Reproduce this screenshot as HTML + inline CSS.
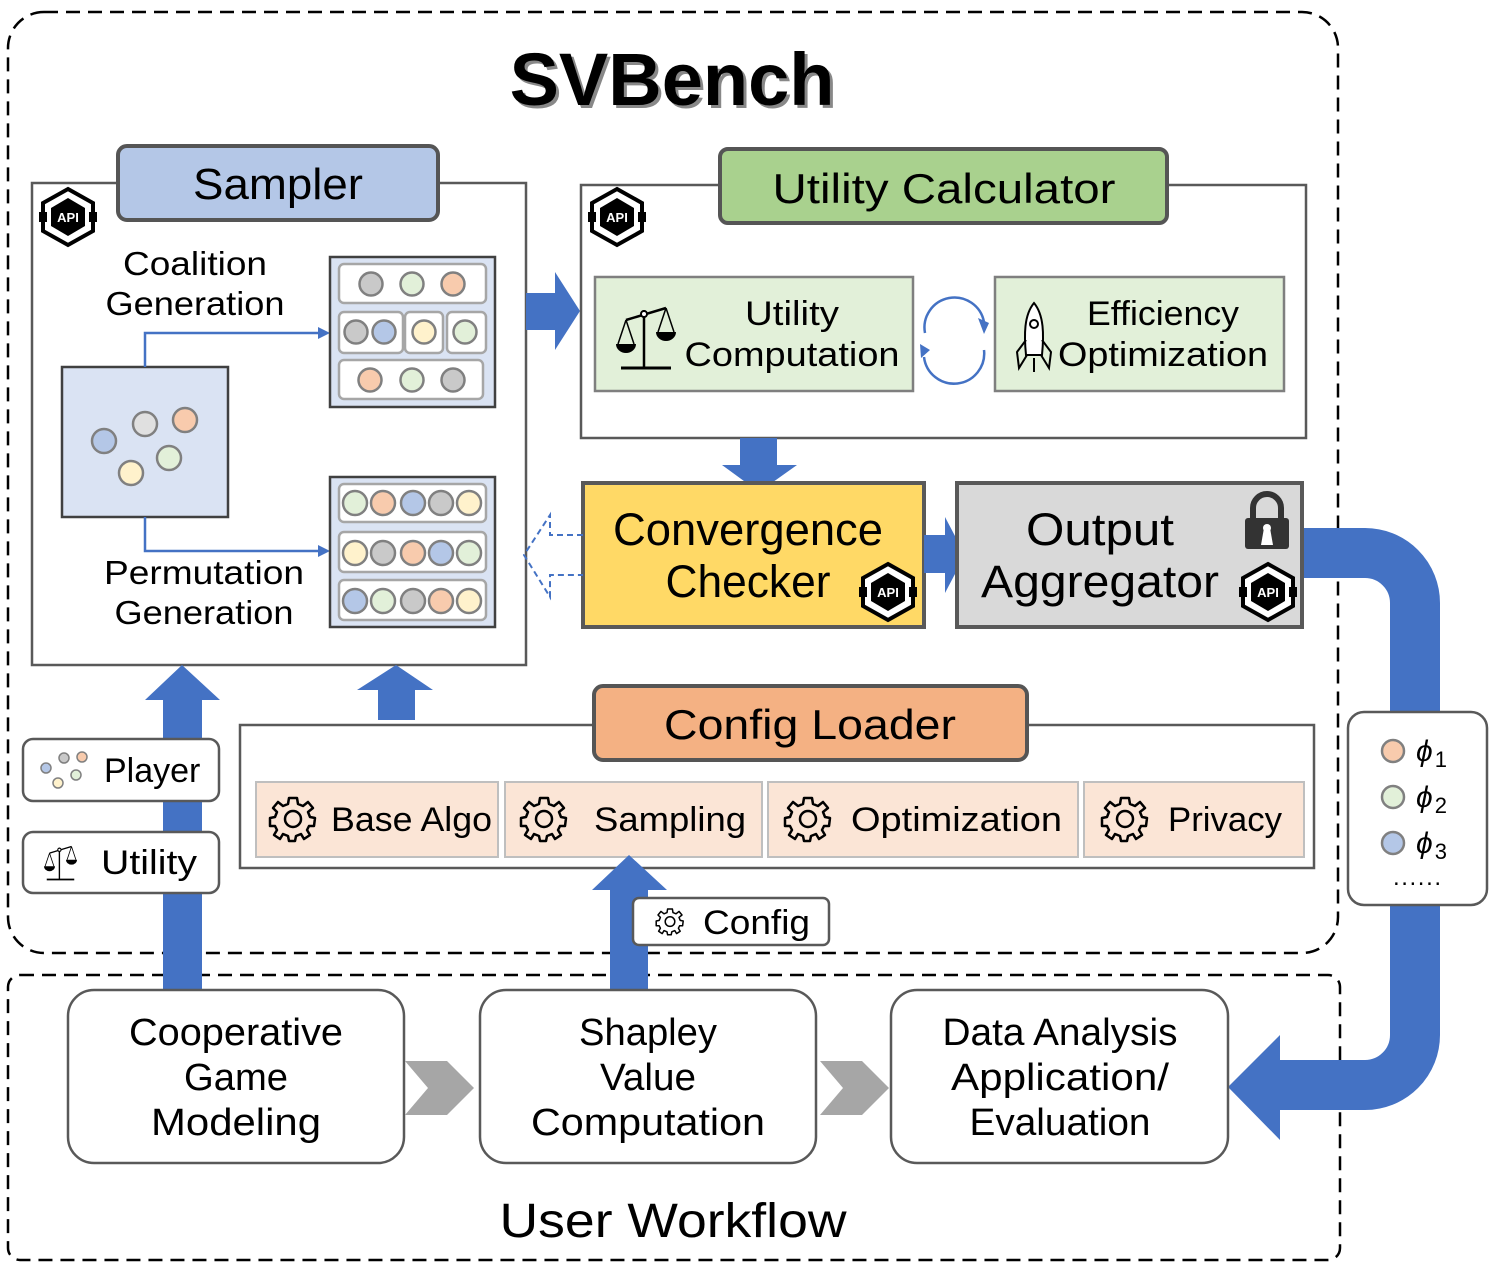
<!DOCTYPE html>
<html><head><meta charset="utf-8"><style>
html,body{margin:0;padding:0;background:#fff}
svg{display:block}
text{font-family:"Liberation Sans",sans-serif;fill:#000}
</style></head><body>
<svg width="1494" height="1275" viewBox="0 0 1494 1275" xmlns="http://www.w3.org/2000/svg">
<defs>
<g id="api">
<polygon points="0,-28 25,-14 25,14 0,28 -25,14 -25,-14" fill="#fff" stroke="#000" stroke-width="4"/>
<polygon points="0,-19 17,-9 17,9 0,19 -17,9 -17,-9" fill="#000"/>
<rect x="-29" y="-5" width="8" height="10" fill="#000"/>
<rect x="21" y="-5" width="8" height="10" fill="#000"/>
<text x="0" y="5" font-size="13" font-weight="bold" text-anchor="middle" style="fill:#fff">API</text>
</g>
<g id="gear">
<path d="M-4,-20 L4,-20 L5,-14 L10,-12 L15,-16 L20,-10 L15,-6 L17,-1 L22,0 L21,8 L16,8 L14,12 L17,17 L11,21 L8,16 L3,18 L2,23 L-4,23 L-5,18 L-10,16 L-13,21 L-19,17 L-16,12 L-18,8 L-23,8 L-23,0 L-18,-1 L-16,-6 L-20,-10 L-15,-16 L-10,-12 L-5,-14 Z" fill="none" stroke="#000" stroke-width="2.5" stroke-linejoin="round"/>
<circle cx="0" cy="1" r="8" fill="none" stroke="#000" stroke-width="2.5"/>
</g>
<g id="scale">
<line x1="-35" y1="30" x2="15" y2="30" stroke="#000" stroke-width="3"/>
<line x1="-12" y1="30" x2="-12" y2="-28" stroke="#000" stroke-width="2.5"/>
<line x1="-30" y1="-18" x2="10" y2="-30" stroke="#000" stroke-width="2.5"/>
<circle cx="-12" cy="-24" r="3" fill="#fff" stroke="#000" stroke-width="2"/>
<path d="M-30,-18 L-38,6 M-30,-18 L-22,6 M10,-30 L2,-6 M10,-30 L18,-6" stroke="#000" stroke-width="1.5" fill="none"/>
<path d="M-40,6 L-20,6 A10,9 0 0 1 -40,6 Z" fill="#000"/>
<path d="M0,-6 L20,-6 A10,9 0 0 1 0,-6 Z" fill="#000"/>
</g>
</defs>

<rect x="8" y="12" width="1330" height="941" rx="36" fill="none" stroke="#000" stroke-width="2.5" stroke-dasharray="14,8"/>
<rect x="8" y="975" width="1332" height="285" rx="12" fill="none" stroke="#000" stroke-width="2.5" stroke-dasharray="14,8"/>

<text x="672" y="105" font-size="74" font-weight="bold" text-anchor="middle" style="fill:#888" transform="translate(3,3)">SVBench</text>
<text x="672" y="105" font-size="74" font-weight="bold" text-anchor="middle">SVBench</text>

<path d="M1300,553 L1365,553 A50,50 0 0 1 1415,603 L1415,1035 A50,50 0 0 1 1365,1085 L1270,1085" fill="none" stroke="#4472c4" stroke-width="50"/>
<polygon points="1280,1035 1280,1140 1228,1087" fill="#4472c4"/>

<rect x="32" y="183" width="494" height="482" fill="#fff" stroke="#595959" stroke-width="2.5"/>
<rect x="118" y="146" width="320" height="74" rx="9" fill="#b4c7e7" stroke="#555" stroke-width="4"/>
<text x="278" y="199" font-size="44" text-anchor="middle" textLength="170" lengthAdjust="spacingAndGlyphs">Sampler</text>
<use href="#api" x="68" y="217"/>
<text x="195" y="275" font-size="33" text-anchor="middle" textLength="144" lengthAdjust="spacingAndGlyphs">Coalition</text>
<text x="195" y="315" font-size="33" text-anchor="middle" textLength="179" lengthAdjust="spacingAndGlyphs">Generation</text>
<text x="204" y="584" font-size="33" text-anchor="middle" textLength="200" lengthAdjust="spacingAndGlyphs">Permutation</text>
<text x="204" y="624" font-size="33" text-anchor="middle" textLength="179" lengthAdjust="spacingAndGlyphs">Generation</text>
<rect x="62" y="367" width="166" height="150" fill="#dae3f3" stroke="#404040" stroke-width="2.5"/>
<g stroke="#808080" stroke-width="2.5">
<circle cx="104" cy="441" r="12" fill="#b4c7e7"/>
<circle cx="145" cy="424" r="12" fill="#e0e0e0"/>
<circle cx="185" cy="420" r="12" fill="#f8cbad"/>
<circle cx="169" cy="458" r="12" fill="#e2f0d9"/>
<circle cx="131" cy="473" r="12" fill="#fff2cc"/>
</g>
<path d="M145,367 L145,333 L320,333" fill="none" stroke="#4472c4" stroke-width="2.5"/>
<polygon points="318,327 330,333 318,339" fill="#4472c4"/>
<path d="M145,517 L145,551 L320,551" fill="none" stroke="#4472c4" stroke-width="2.5"/>
<polygon points="318,545 330,551 318,557" fill="#4472c4"/>

<rect x="330" y="257" width="165" height="150" fill="#dae3f3" stroke="#404040" stroke-width="2.5"/>
<g fill="#fff" stroke="#a6a6a6" stroke-width="2.5">
<rect x="339" y="264" width="147" height="39" rx="5"/>
<rect x="339" y="312" width="64" height="41" rx="5"/>
<rect x="405" y="312" width="38" height="41" rx="5"/>
<rect x="447" y="312" width="39" height="41" rx="5"/>
<rect x="339" y="360" width="144" height="39" rx="5"/>
</g>
<g stroke="#808080" stroke-width="2.5">
<circle cx="371" cy="284" r="11.5" fill="#c9c9c9"/><circle cx="412" cy="284" r="11.5" fill="#e2f0d9"/><circle cx="453" cy="284" r="11.5" fill="#f8cbad"/>
<circle cx="356" cy="332" r="11.5" fill="#c9c9c9"/><circle cx="384" cy="332" r="11.5" fill="#b4c7e7"/><circle cx="424" cy="332" r="11.5" fill="#fff2cc"/><circle cx="465" cy="332" r="11.5" fill="#e2f0d9"/>
<circle cx="370" cy="380" r="11.5" fill="#f8cbad"/><circle cx="412" cy="380" r="11.5" fill="#e2f0d9"/><circle cx="453" cy="380" r="11.5" fill="#c9c9c9"/>
</g>
<rect x="330" y="477" width="165" height="150" fill="#dae3f3" stroke="#404040" stroke-width="2.5"/>
<g fill="#fff" stroke="#a6a6a6" stroke-width="2.5">
<rect x="339" y="484" width="147" height="38" rx="5"/>
<rect x="339" y="532" width="147" height="40" rx="5"/>
<rect x="339" y="580" width="147" height="40" rx="5"/>
</g>
<g stroke="#808080" stroke-width="2.5">
<circle cx="355" cy="503" r="12" fill="#e2f0d9"/><circle cx="383" cy="503" r="12" fill="#f8cbad"/><circle cx="413" cy="503" r="12" fill="#b4c7e7"/><circle cx="441" cy="503" r="12" fill="#c9c9c9"/><circle cx="469" cy="503" r="12" fill="#fff2cc"/>
<circle cx="355" cy="553" r="12" fill="#fff2cc"/><circle cx="383" cy="553" r="12" fill="#c9c9c9"/><circle cx="413" cy="553" r="12" fill="#f8cbad"/><circle cx="441" cy="553" r="12" fill="#b4c7e7"/><circle cx="469" cy="553" r="12" fill="#e2f0d9"/>
<circle cx="355" cy="601" r="12" fill="#b4c7e7"/><circle cx="383" cy="601" r="12" fill="#e2f0d9"/><circle cx="413" cy="601" r="12" fill="#c9c9c9"/><circle cx="441" cy="601" r="12" fill="#f8cbad"/><circle cx="469" cy="601" r="12" fill="#fff2cc"/>
</g>

<polygon points="526,293 555,293 555,272 580,311 555,350 555,330 526,330" fill="#4472c4"/>

<rect x="581" y="185" width="725" height="253" fill="#fff" stroke="#595959" stroke-width="2.5"/>
<rect x="720" y="149" width="447" height="74" rx="8" fill="#a9d18e" stroke="#555" stroke-width="4"/>
<text x="944" y="203" font-size="42" text-anchor="middle" textLength="343" lengthAdjust="spacingAndGlyphs">Utility Calculator</text>
<use href="#api" x="617" y="217"/>
<rect x="595" y="277" width="318" height="114" fill="#e2f0d9" stroke="#7f7f7f" stroke-width="2.5"/>
<use href="#scale" x="656" y="338"/>
<text x="792" y="325" font-size="34" text-anchor="middle" textLength="94" lengthAdjust="spacingAndGlyphs">Utility</text>
<text x="792" y="366" font-size="34" text-anchor="middle" textLength="215" lengthAdjust="spacingAndGlyphs">Computation</text>
<rect x="995" y="277" width="289" height="114" fill="#e2f0d9" stroke="#7f7f7f" stroke-width="2.5"/>
<path d="M1034,303 C1024,315 1024,335 1026,355 L1042,355 C1044,335 1044,315 1034,303 Z" fill="#fff" stroke="#000" stroke-width="2"/>
<circle cx="1034" cy="324" r="4" fill="none" stroke="#000" stroke-width="2"/>
<path d="M1026,340 L1017,352 L1019,368 L1027,355 M1042,340 L1051,352 L1049,368 L1041,355 M1034,358 L1034,372" stroke="#000" stroke-width="2" fill="none"/>
<text x="1163" y="325" font-size="34" text-anchor="middle" textLength="152" lengthAdjust="spacingAndGlyphs">Efficiency</text>
<text x="1163" y="366" font-size="34" text-anchor="middle" textLength="210" lengthAdjust="spacingAndGlyphs">Optimization</text>
<path d="M925,333 A30,30 0 0 1 984,322" fill="none" stroke="#4472c4" stroke-width="2.5"/>
<polygon points="978,318 989,323 984,334" fill="#4472c4"/>
<path d="M984,350 A30,30 0 0 1 924,357" fill="none" stroke="#4472c4" stroke-width="2.5"/>
<polygon points="920,344 921,358 930,350" fill="#4472c4"/>

<polygon points="740,438 777,438 777,465 797,465 759,492 722,465 740,465" fill="#4472c4"/>

<rect x="583" y="483" width="341" height="144" fill="#ffd966" stroke="#595959" stroke-width="4"/>
<text x="748" y="545" font-size="45" text-anchor="middle" textLength="270" lengthAdjust="spacingAndGlyphs">Convergence</text>
<text x="748" y="597" font-size="45" text-anchor="middle" textLength="165" lengthAdjust="spacingAndGlyphs">Checker</text>
<use href="#api" x="888" y="592"/>
<polygon points="924,535 945,535 945,517 965,555 945,593 945,573 924,573" fill="#4472c4"/>
<path d="M583,535 L550,535 L550,515 L524,555 L550,597 L550,575 L583,575" fill="none" stroke="#4472c4" stroke-width="2" stroke-dasharray="6,4"/>

<rect x="957" y="483" width="345" height="144" fill="#d9d9d9" stroke="#595959" stroke-width="4"/>
<text x="1100" y="545" font-size="45" text-anchor="middle" textLength="148" lengthAdjust="spacingAndGlyphs">Output</text>
<text x="1100" y="597" font-size="45" text-anchor="middle" textLength="238" lengthAdjust="spacingAndGlyphs">Aggregator</text>
<use href="#api" x="1268" y="592"/>
<path d="M1253,520 L1253,508 A14,14 0 0 1 1281,508 L1281,520" fill="none" stroke="#333" stroke-width="6"/>
<rect x="1245" y="518" width="44" height="31" rx="3" fill="#333"/>
<polygon points="1264,528 1270,528 1273,545 1261,545" fill="#fff"/>
<circle cx="1267" cy="528" r="4" fill="#fff"/>

<rect x="1348" y="712" width="139" height="193" rx="16" fill="#fff" stroke="#595959" stroke-width="2.5"/>
<g stroke="#808080" stroke-width="2.5">
<circle cx="1393" cy="751" r="11" fill="#f8cbad"/>
<circle cx="1393" cy="797" r="11" fill="#e2f0d9"/>
<circle cx="1393" cy="843" r="11" fill="#b4c7e7"/>
</g>
<text x="1416" y="761" font-size="30" font-style="italic" font-family="Liberation Serif">ϕ<tspan font-size="22" font-style="normal" dx="2" dy="6">1</tspan></text>
<text x="1416" y="807" font-size="30" font-style="italic" font-family="Liberation Serif">ϕ<tspan font-size="22" font-style="normal" dx="2" dy="6">2</tspan></text>
<text x="1416" y="853" font-size="30" font-style="italic" font-family="Liberation Serif">ϕ<tspan font-size="22" font-style="normal" dx="2" dy="6">3</tspan></text>
<text x="1417" y="885" font-size="24" text-anchor="middle" textLength="48" lengthAdjust="spacing">......</text>

<polygon points="163,990 202,990 202,700 220,700 182,665 145,700 163,700" fill="#4472c4"/>
<polygon points="378,720 415,720 415,690 433,690 396,665 357,690 378,690" fill="#4472c4"/>

<rect x="23" y="739" width="196" height="62" rx="10" fill="#fff" stroke="#595959" stroke-width="2.5"/>
<g stroke="#808080" stroke-width="1.5">
<circle cx="46" cy="768" r="5" fill="#b4c7e7"/><circle cx="64" cy="758" r="5" fill="#c9c9c9"/><circle cx="82" cy="757" r="5" fill="#f8cbad"/><circle cx="76" cy="775" r="5" fill="#e2f0d9"/><circle cx="58" cy="783" r="5" fill="#fff2cc"/>
</g>
<text x="104" y="782" font-size="34">Player</text>
<rect x="23" y="832" width="196" height="61" rx="10" fill="#fff" stroke="#595959" stroke-width="2.5"/>
<g transform="translate(66,863) scale(0.55)"><use href="#scale"/></g>
<text x="101" y="874" font-size="34" textLength="96" lengthAdjust="spacingAndGlyphs">Utility</text>

<rect x="240" y="725" width="1074" height="143" fill="#fff" stroke="#595959" stroke-width="2.5"/>
<rect x="594" y="686" width="433" height="74" rx="9" fill="#f4b183" stroke="#555" stroke-width="4"/>
<text x="810" y="739" font-size="42" text-anchor="middle" textLength="292" lengthAdjust="spacingAndGlyphs">Config Loader</text>
<g fill="#fbe5d6" stroke="#bfbfbf" stroke-width="2">
<rect x="256" y="782" width="242" height="75"/>
<rect x="505" y="782" width="257" height="75"/>
<rect x="768" y="782" width="310" height="75"/>
<rect x="1084" y="782" width="220" height="75"/>
</g>
<use href="#gear" x="293" y="818"/><text x="331" y="831" font-size="34" textLength="161" lengthAdjust="spacingAndGlyphs">Base Algo</text>
<use href="#gear" x="544" y="818"/><text x="594" y="831" font-size="34" textLength="152" lengthAdjust="spacingAndGlyphs">Sampling</text>
<use href="#gear" x="808" y="818"/><text x="851" y="831" font-size="34" textLength="211" lengthAdjust="spacingAndGlyphs">Optimization</text>
<use href="#gear" x="1125" y="818"/><text x="1168" y="831" font-size="34" textLength="114" lengthAdjust="spacingAndGlyphs">Privacy</text>

<polygon points="610,992 648,992 648,890 667,890 629,855 592,890 610,890" fill="#4472c4"/>
<rect x="633" y="898" width="196" height="47" rx="6" fill="#fff" stroke="#595959" stroke-width="2.5"/>
<g transform="translate(670,921) scale(0.6)"><use href="#gear"/></g>
<text x="703" y="934" font-size="34" textLength="107" lengthAdjust="spacingAndGlyphs">Config</text>

<rect x="68" y="990" width="336" height="173" rx="26" fill="#fff" stroke="#595959" stroke-width="2.5"/>
<text x="236" y="1045" font-size="38" text-anchor="middle" textLength="214" lengthAdjust="spacingAndGlyphs">Cooperative</text>
<text x="236" y="1090" font-size="38" text-anchor="middle" textLength="104" lengthAdjust="spacingAndGlyphs">Game</text>
<text x="236" y="1135" font-size="38" text-anchor="middle" textLength="170" lengthAdjust="spacingAndGlyphs">Modeling</text>
<rect x="480" y="990" width="336" height="173" rx="26" fill="#fff" stroke="#595959" stroke-width="2.5"/>
<text x="648" y="1045" font-size="38" text-anchor="middle" textLength="138" lengthAdjust="spacingAndGlyphs">Shapley</text>
<text x="648" y="1090" font-size="38" text-anchor="middle" textLength="96" lengthAdjust="spacingAndGlyphs">Value</text>
<text x="648" y="1135" font-size="38" text-anchor="middle" textLength="234" lengthAdjust="spacingAndGlyphs">Computation</text>
<rect x="891" y="990" width="337" height="173" rx="26" fill="#fff" stroke="#595959" stroke-width="2.5"/>
<text x="1060" y="1045" font-size="38" text-anchor="middle" textLength="235" lengthAdjust="spacingAndGlyphs">Data Analysis</text>
<text x="1060" y="1090" font-size="38" text-anchor="middle" textLength="218" lengthAdjust="spacingAndGlyphs">Application/</text>
<text x="1060" y="1135" font-size="38" text-anchor="middle" textLength="181" lengthAdjust="spacingAndGlyphs">Evaluation</text>
<polygon points="405,1061 447,1061 474,1088 447,1115 405,1115 428,1088" fill="#a6a6a6"/>
<polygon points="820,1061 862,1061 889,1088 862,1115 820,1115 843,1088" fill="#a6a6a6"/>
<text x="673" y="1237" font-size="48" text-anchor="middle" textLength="347" lengthAdjust="spacingAndGlyphs">User Workflow</text>
</svg>
</body></html>
